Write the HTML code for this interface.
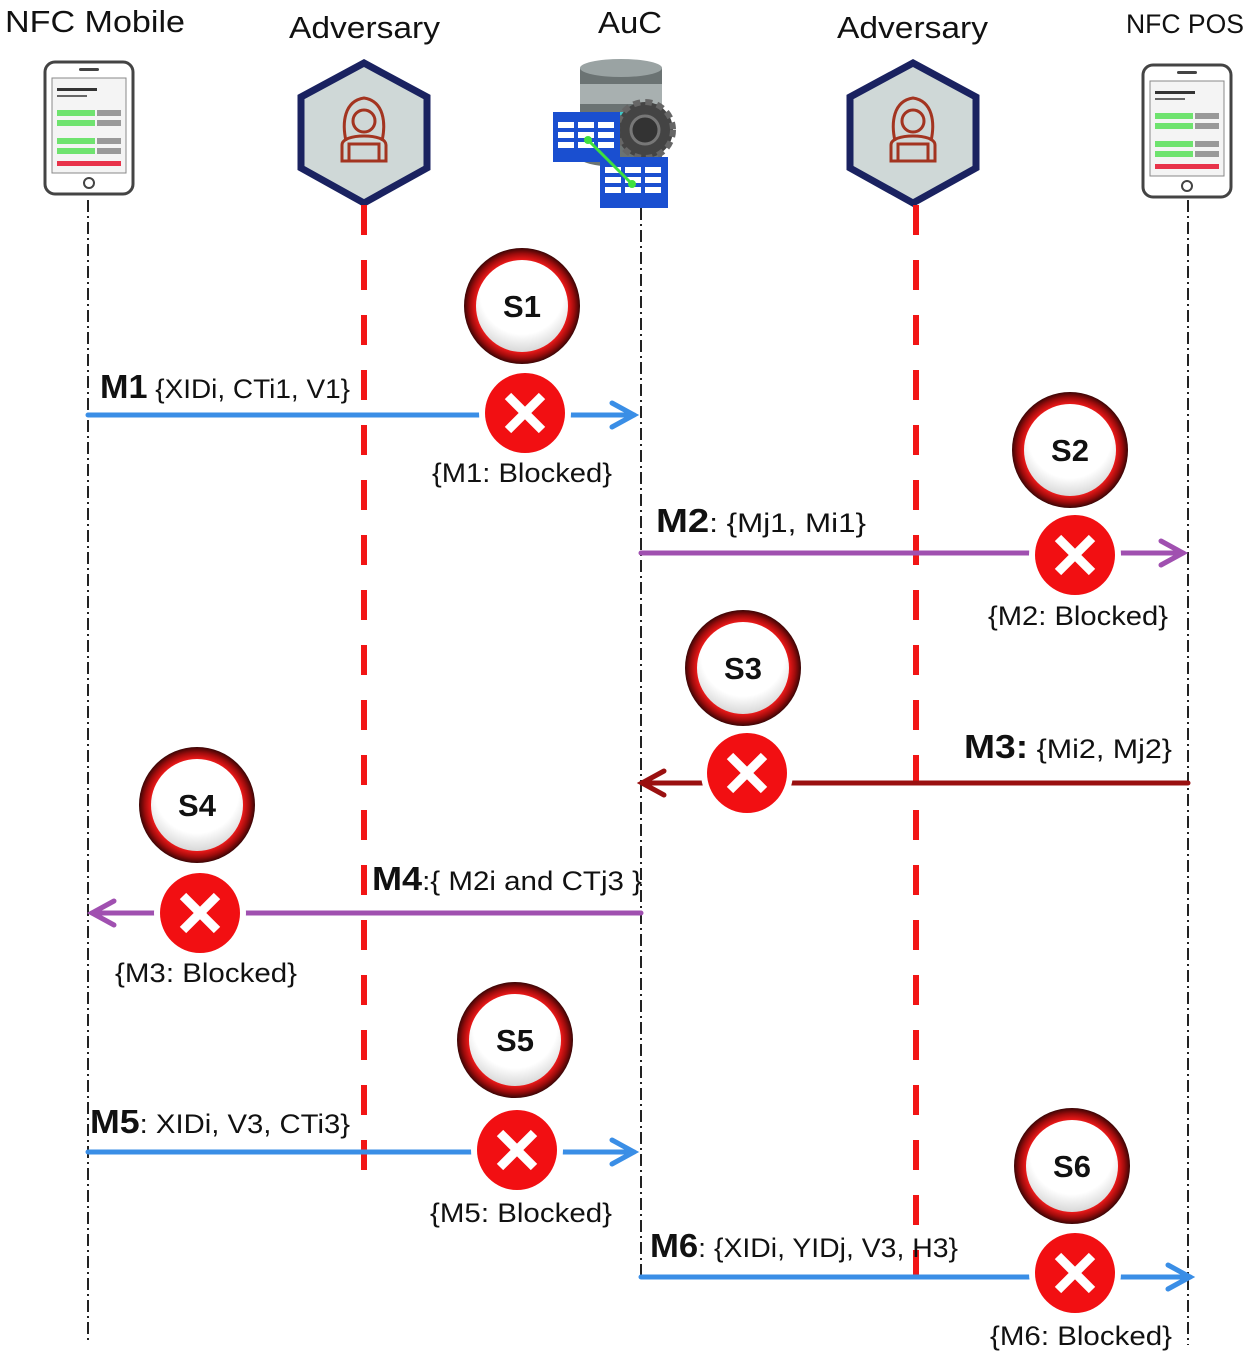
<!DOCTYPE html>
<html><head><meta charset="utf-8"><style>
html,body{margin:0;padding:0;background:#fff;}
svg{display:block;}
text{font-family:"Liberation Sans",sans-serif;fill:#111;}
</style></head><body>
<svg width="1250" height="1355" viewBox="0 0 1250 1355" xmlns="http://www.w3.org/2000/svg">
<defs>
<radialGradient id="ring" cx="50%" cy="50%" r="50%">
<stop offset="0.80" stop-color="#e81818"/>
<stop offset="0.90" stop-color="#a00c0c"/>
<stop offset="1" stop-color="#3a0505"/>
</radialGradient>
<radialGradient id="inner" cx="50%" cy="35%" r="65%">
<stop offset="0.7" stop-color="#ffffff"/>
<stop offset="1" stop-color="#d8d8d8"/>
</radialGradient>
<g id="phone">
<rect x="2" y="2" width="88" height="132" rx="10" fill="#fff" stroke="#444" stroke-width="3"/>
<rect x="9" y="18" width="74" height="95" fill="#f4f4f4" stroke="#888" stroke-width="1"/>
<rect x="36" y="8" width="20" height="3" rx="1.5" fill="#444"/>
<circle cx="46" cy="123" r="5" fill="none" stroke="#444" stroke-width="2"/>
<rect x="14" y="28" width="40" height="3" fill="#333"/>
<rect x="14" y="35" width="30" height="2" fill="#666"/>
<rect x="14" y="50" width="38" height="6" fill="#6fe36f"/><rect x="54" y="50" width="24" height="6" fill="#999"/>
<rect x="14" y="60" width="38" height="6" fill="#6fe36f"/><rect x="54" y="60" width="24" height="6" fill="#999"/>
<rect x="14" y="78" width="38" height="6" fill="#6fe36f"/><rect x="54" y="78" width="24" height="6" fill="#999"/>
<rect x="14" y="88" width="38" height="6" fill="#6fe36f"/><rect x="54" y="88" width="24" height="6" fill="#999"/>
<rect x="14" y="101" width="64" height="5" fill="#e8334a"/>
</g>
<g id="hex">
<polygon points="0,-70 63,-36 63,35 0,70 -63,35 -63,-36" fill="#cfd8d7" stroke="#1a2260" stroke-width="7"/>
<g fill="none" stroke="#a33420" stroke-width="3">
<path d="M-18,8 C-22,-10 -20,-32 0,-35 C20,-32 22,-10 18,8"/>
<circle cx="0" cy="-12" r="11"/>
<path d="M-22,28 L-22,12 C-22,6 -12,3 0,3 C12,3 22,6 22,12 L22,28 Z"/>
<rect x="-15" y="11" width="30" height="17"/>
</g>
</g>
<g id="xc">
<circle r="40" fill="#f20f12"/>
<path d="M-17,-17 L17,17 M17,-17 L-17,17" stroke="#fff" stroke-width="9"/>
</g>
<g id="sc">
<circle r="58" fill="url(#ring)"/>
<circle r="46" fill="url(#inner)"/>
</g>
</defs>

<!-- headers -->
<text x="5" y="32" font-size="31" textLength="180" lengthAdjust="spacingAndGlyphs">NFC Mobile</text>
<text x="289" y="38" font-size="31" textLength="151" lengthAdjust="spacingAndGlyphs">Adversary</text>
<text x="598" y="33" font-size="31" textLength="64" lengthAdjust="spacingAndGlyphs">AuC</text>
<text x="837" y="38" font-size="31" textLength="151" lengthAdjust="spacingAndGlyphs">Adversary</text>
<text x="1126" y="33" font-size="27" textLength="118" lengthAdjust="spacingAndGlyphs">NFC POS</text>

<!-- icons -->
<use href="#phone" x="43" y="60"/>
<use href="#phone" x="1141" y="63"/>
<use href="#hex" x="364" y="133"/>
<use href="#hex" x="913" y="133"/>
<!-- AuC -->
<g>
<rect x="580" y="68" width="82" height="90" fill="#6b7373"/>
<ellipse cx="621" cy="68" rx="41" ry="9" fill="#9aa3a3"/>
<rect x="580" y="84" width="82" height="20" fill="#a8b0b0"/>
<rect x="580" y="112" width="82" height="10" fill="#3fc8c8"/>
<ellipse cx="621" cy="158" rx="41" ry="9" fill="#6b7373"/>
<circle cx="645" cy="130" r="28" fill="#444" stroke="#666" stroke-width="6" stroke-dasharray="7 5"/>
<circle cx="645" cy="130" r="14" fill="#333" stroke="#777" stroke-width="3"/>
<rect x="553" y="112" width="67" height="50" fill="#1a4fd0"/>
<g fill="#fff"><rect x="558" y="122" width="16" height="6"/><rect x="578" y="122" width="16" height="6"/><rect x="598" y="122" width="16" height="6"/>
<rect x="558" y="132" width="16" height="6"/><rect x="578" y="132" width="16" height="6"/><rect x="598" y="132" width="16" height="6"/>
<rect x="558" y="142" width="16" height="6"/><rect x="578" y="142" width="16" height="6"/><rect x="598" y="142" width="16" height="6"/></g>
<rect x="600" y="157" width="68" height="51" fill="#1a4fd0"/>
<g fill="#fff"><rect x="605" y="167" width="16" height="6"/><rect x="625" y="167" width="16" height="6"/><rect x="645" y="167" width="16" height="6"/>
<rect x="605" y="177" width="16" height="6"/><rect x="625" y="177" width="16" height="6"/><rect x="645" y="177" width="16" height="6"/>
<rect x="605" y="187" width="16" height="6"/><rect x="625" y="187" width="16" height="6"/><rect x="645" y="187" width="16" height="6"/></g>
<path d="M588,140 L632,184" stroke="#3ee03e" stroke-width="3"/>
<circle cx="588" cy="140" r="4" fill="#3ee03e"/><circle cx="632" cy="184" r="4" fill="#3ee03e"/>
</g>

<!-- lifelines -->
<g stroke="#222" stroke-width="2" stroke-dasharray="12 4 2 4" fill="none">
<line x1="88" y1="200" x2="88" y2="1340"/>
<line x1="641" y1="208" x2="641" y2="1280"/>
<line x1="1188" y1="200" x2="1188" y2="1345"/>
</g>
<g stroke="#f21616" stroke-width="6" stroke-dasharray="30 25" fill="none">
<line x1="364" y1="205" x2="364" y2="1192"/>
<line x1="916" y1="205" x2="916" y2="1275"/>
</g>

<!-- arrows -->
<g fill="none" stroke-width="5" stroke-linecap="round">
<line x1="88" y1="415" x2="634" y2="415" stroke="#3a8ee6"/>
<path d="M612,403 L634,415 L612,427" stroke="#3a8ee6"/>
<line x1="641" y1="553" x2="1183" y2="553" stroke="#a050b0"/>
<path d="M1161,541 L1183,553 L1161,565" stroke="#a050b0"/>
<line x1="1188" y1="783" x2="642" y2="783" stroke="#9a1010"/>
<path d="M664,771 L642,783 L664,795" stroke="#9a1010"/>
<line x1="641" y1="913" x2="92" y2="913" stroke="#a050b0"/>
<path d="M114,901 L92,913 L114,925" stroke="#a050b0"/>
<line x1="88" y1="1152" x2="634" y2="1152" stroke="#3a8ee6"/>
<path d="M612,1140 L634,1152 L612,1164" stroke="#3a8ee6"/>
<line x1="641" y1="1277" x2="1190" y2="1277" stroke="#3a8ee6"/>
<path d="M1168,1265 L1190,1277 L1168,1289" stroke="#3a8ee6"/>
</g>

<!-- blockers: white gap around X -->
<g fill="#fff">
<circle cx="525" cy="413" r="46"/><circle cx="1075" cy="555" r="46"/><circle cx="747" cy="773" r="46"/>
<circle cx="200" cy="913" r="46"/><circle cx="517" cy="1150" r="46"/><circle cx="1075" cy="1273" r="46"/>
</g>
<use href="#xc" x="525" y="413"/><use href="#xc" x="1075" y="555"/><use href="#xc" x="747" y="773"/>
<use href="#xc" x="200" y="913"/><use href="#xc" x="517" y="1150"/><use href="#xc" x="1075" y="1273"/>

<use href="#sc" x="522" y="306"/><use href="#sc" x="1070" y="450"/><use href="#sc" x="743" y="668"/>
<use href="#sc" x="197" y="805"/><use href="#sc" x="515" y="1040"/><use href="#sc" x="1072" y="1166"/>
<g font-size="31" font-weight="bold" text-anchor="middle">
<text x="522" y="317">S1</text><text x="1070" y="461">S2</text><text x="743" y="679">S3</text>
<text x="197" y="816">S4</text><text x="515" y="1051">S5</text><text x="1072" y="1177">S6</text>
</g>

<!-- labels -->
<g font-size="27">
<text x="100" y="398" textLength="250" lengthAdjust="spacingAndGlyphs"><tspan font-weight="bold" font-size="33">M1</tspan> {XIDi, CTi1, V1}</text>
<text x="432" y="482" textLength="180" lengthAdjust="spacingAndGlyphs">{M1: Blocked}</text>
<text x="656" y="532" textLength="210" lengthAdjust="spacingAndGlyphs"><tspan font-weight="bold" font-size="33">M2</tspan>: {Mj1, Mi1}</text>
<text x="988" y="625" textLength="180" lengthAdjust="spacingAndGlyphs">{M2: Blocked}</text>
<text x="964" y="758" textLength="208" lengthAdjust="spacingAndGlyphs"><tspan font-weight="bold" font-size="33">M3:</tspan> {Mi2, Mj2}</text>
<text x="372" y="890" textLength="270" lengthAdjust="spacingAndGlyphs"><tspan font-weight="bold" font-size="33">M4</tspan>:{ M2i and CTj3 }</text>
<text x="115" y="982" textLength="182" lengthAdjust="spacingAndGlyphs">{M3: Blocked}</text>
<text x="90" y="1133" textLength="260" lengthAdjust="spacingAndGlyphs"><tspan font-weight="bold" font-size="33">M5</tspan>: XIDi, V3,  CTi3}</text>
<text x="430" y="1222" textLength="182" lengthAdjust="spacingAndGlyphs">{M5: Blocked}</text>
<text x="650" y="1257" textLength="308" lengthAdjust="spacingAndGlyphs"><tspan font-weight="bold" font-size="33">M6</tspan>: {XIDi, YIDj, V3, H3}</text>
<text x="990" y="1345" textLength="182" lengthAdjust="spacingAndGlyphs">{M6: Blocked}</text>
</g>
</svg>
</body></html>
